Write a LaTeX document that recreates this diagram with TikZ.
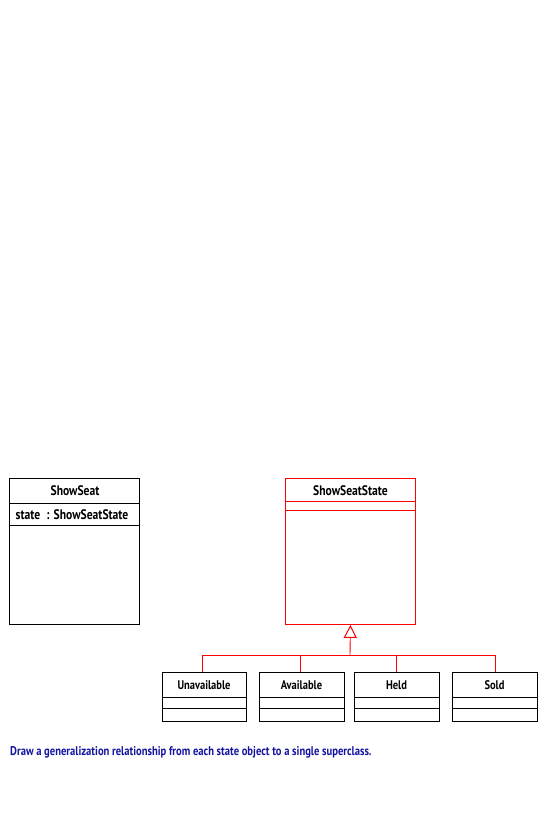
\documentclass[tikz,border=0pt]{standalone}
\usepackage{fontspec}
\setmainfont{PT Sans}[FakeStretch=0.84]
\usetikzlibrary{arrows.meta}
\definecolor{capblue}{RGB}{20,20,160}
\tikzset{
  umlbox/.style={draw=black, line width=0.9pt, inner sep=0pt, anchor=north west},
  redbox/.style={draw=red, line width=0.9pt, inner sep=0pt, anchor=north west},
  title/.style={font=\bfseries\fontsize{13.8}{15}\selectfont, inner sep=0pt},
  subtitle/.style={font=\bfseries\fontsize{12.5}{14}\selectfont, inner sep=0pt},
  redline/.style={draw=red, line width=0.9pt},
  gen/.style={redline, -{Triangle[open, width=13pt, length=13pt, line width=1pt]}},
}
\begin{document}
\begin{tikzpicture}[x=1pt, y=-1pt]
\useasboundingbox (0,0) rectangle (550,820);
% ShowSeat
\node[umlbox, minimum width=130pt, minimum height=146pt] (ss) at (9,478) {};
\draw[line width=0.9pt] (9,503) -- (139,503);
\draw[line width=0.9pt] (9,525) -- (139,525);
\node[title] (sst) at (75,491) {ShowSeat};
\node[title, anchor=west] (ssa) at (15.5,514.5) {state\hspace{0.45em}:\hspace{0.3em}ShowSeatState};
% ShowSeatState
\node[redbox, minimum width=130pt, minimum height=146pt] (sup) at (285,478) {};
\draw[red, line width=0.9pt] (285,501.5) -- (415,501.5);
\draw[red, line width=0.9pt] (285,510.5) -- (415,510.5);
\node[title] (supt) at (350.5,490.5) {ShowSeatState};
% subclasses
\foreach \nm/\x/\w/\txt in {un/162/84/Unavailable, av/259/85/Available, he/354/85/Held, so/452/85/Sold}{
  \node[umlbox, minimum width=\w pt, minimum height=49pt] (\nm) at (\x,672) {};
  \draw[line width=0.9pt] (\x,697) -- ++(\w,0);
  \draw[line width=0.9pt] (\x,708.5) -- ++(\w,0);
  \node[subtitle] (\nm t) at (\x+\w/2,685.5) {\txt};
}
\coordinate (j) at (350,655);
\coordinate (unj) at (202.5,672);
\coordinate (avj) at (300,672);
\coordinate (hej) at (396,672);
\coordinate (soj) at (495,672);
\draw[redline] (unj) |- (soj |- j) -- (soj);
\draw[redline] (avj) -- (avj |- j);
\draw[redline] (hej) -- (hej |- j);
\draw[gen] (j) -- (sup.south);
\node[anchor=west, inner sep=0pt, text=capblue, font=\bfseries\fontsize{12.6}{14}\selectfont] (cap) at (10,752) {Draw a generalization relationship from each state object to a single superclass.};
\end{tikzpicture}
\end{document}
